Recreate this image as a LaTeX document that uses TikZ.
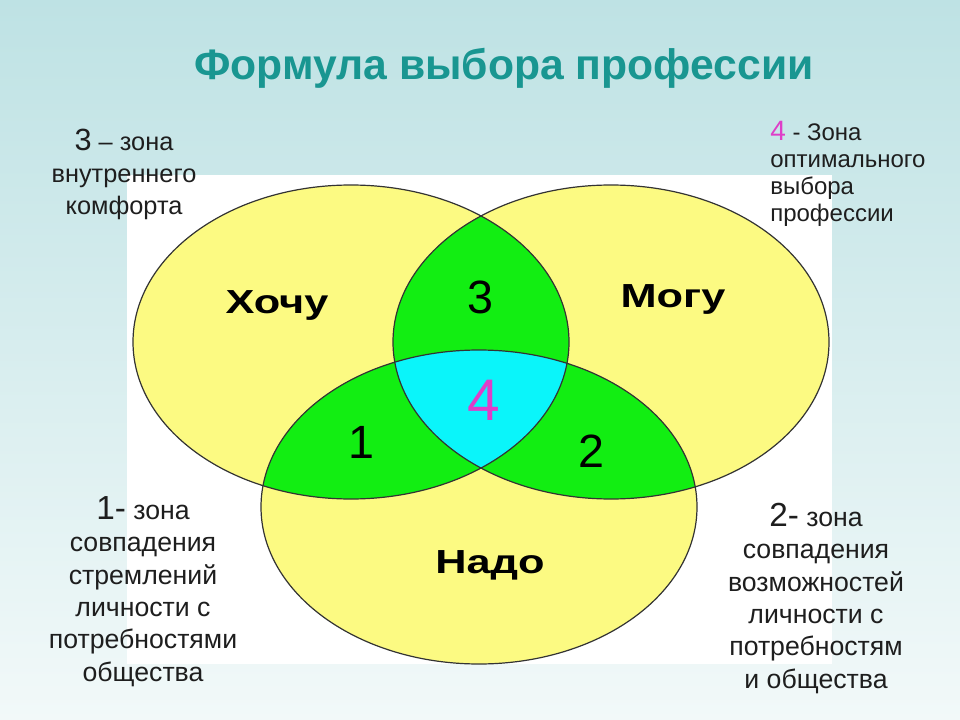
\documentclass[tikz,border=0pt]{standalone}
\usepackage{fontspec}
\setmainfont{Liberation Sans}
\usepackage{graphicx}
\definecolor{bgtop}{RGB}{190,226,228}
\definecolor{bgmid}{RGB}{214,237,238}
\definecolor{bgbot}{RGB}{242,249,249}
\definecolor{yel}{RGB}{252,250,130}
\definecolor{grn}{RGB}{18,238,18}
\definecolor{cyn}{RGB}{10,245,250}
\definecolor{ttl}{RGB}{25,150,145}
\definecolor{mag}{RGB}{222,62,200}
\definecolor{txt}{RGB}{30,30,30}
\newcommand{\ellH}{(cH) ellipse [x radius=163.5pt, y radius=117.75pt]}
\newcommand{\ellM}{(cM) ellipse [x radius=163.5pt, y radius=117.75pt]}
\newcommand{\ellN}{(cN) ellipse [x radius=163.5pt, y radius=117.75pt]}
\tikzset{
  outl/.style={draw=black!80, line width=0.9pt},
  ttlstyle/.style={anchor=base, inner sep=0pt, text=ttl, font=\bfseries\fontsize{32}{36}\selectfont},
  lblsmall/.style={anchor=base, inner sep=0pt, text=txt, align=center, font=\fontsize{19}{24}\selectfont},
  lblright/.style={anchor=base west, inner sep=0pt, text=txt, align=left, font=\fontsize{18}{20.3}\selectfont},
  lblbig/.style={anchor=base, inner sep=0pt, text=txt, align=center, font=\fontsize{20}{24.2}\selectfont},
  setname/.style={anchor=base, inner sep=0pt, text=black, font=\bfseries\fontsize{25}{30}\selectfont},
  zonenum/.style={anchor=base, inner sep=0pt, text=black, font=\fontsize{35}{40}\selectfont},
}
\begin{document}
\begin{tikzpicture}[x=0.75pt,y=-0.75pt]
\useasboundingbox (0,0) rectangle (960,720);
\shade[top color=bgtop, middle color=bgmid, bottom color=bgbot] (0,0) rectangle (960,720);
\fill[white] (127,175) rectangle (832,664);
\coordinate (cH) at (351,342);
\coordinate (cM) at (611,342);
\coordinate (cN) at (479,507);
% yellow sets
\fill[yel] \ellH;
\fill[yel] \ellM;
\fill[yel] \ellN;
% pairwise overlaps
\begin{scope}
  \clip \ellH;
  \fill[grn] \ellM;
  \fill[grn] \ellN;
\end{scope}
\begin{scope}
  \clip \ellM;
  \fill[grn] \ellN;
\end{scope}
% triple overlap
\begin{scope}
  \clip \ellH;
  \clip \ellM;
  \fill[cyn] \ellN;
\end{scope}
\draw[outl] \ellH;
\draw[outl] \ellM;
\draw[outl] \ellN;
% title
\node[ttlstyle] (title) at (504,80) {Формула выбора профессии};
% set names
\node[setname] (hochu) at (277,313) {\scalebox{1.3}[1]{Хочу}};
\node[setname] (mogu) at (673,307) {\scalebox{1.3}[1]{Могу}};
\node[setname] (nado) at (490,573) {\scalebox{1.3}[1]{Надо}};
% zone numbers
\node[zonenum] (z1) at (361,458) {1};
\node[zonenum] (z2) at (591,467) {2};
\node[zonenum] (z3) at (480,314) {3};
\node[zonenum, text=mag, font=\fontsize{44}{50}\selectfont] (z4) at (484,420) {4};
% side labels (base anchor = baseline of the last line)
\node[lblsmall] (l3) at (124,215) {{\fontsize{23}{24}\selectfont 3} – зона\\внутреннего\\комфорта};
\node[lblright] (l4) at (770,222) {{\color{mag}\fontsize{21}{20.3}\selectfont 4} - Зона\\оптимального\\выбора\\профессии};
\node[lblbig] (l1) at (143,681) {{\fontsize{25}{24}\selectfont 1-} зона\\совпадения\\стремлений\\личности с\\потребностями\\общества};
\node[lblbig] (l2) at (816,688) {{\fontsize{25}{24}\selectfont 2-} зона\\совпадения\\возможностей\\личности с\\потребностям\\и общества};
\end{tikzpicture}
\end{document}
